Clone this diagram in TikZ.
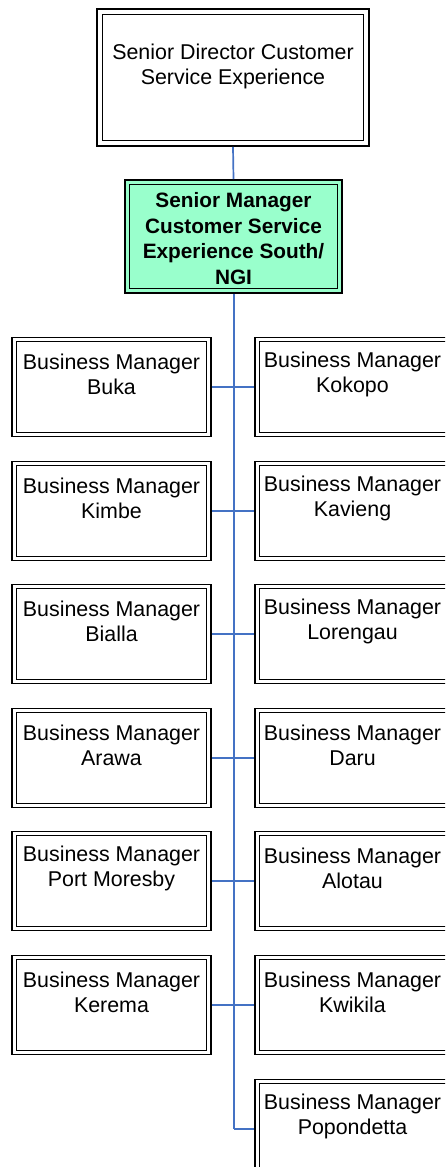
\documentclass[tikz,border=0pt]{standalone}
\usepackage{fontspec}
\setmainfont{Liberation Sans}
\definecolor{linkblue}{RGB}{68,114,196}
\definecolor{mint}{RGB}{153,255,204}
\begin{document}
\begin{tikzpicture}[x=1pt,y=-1pt,
  box/.style={draw, line width=1.7pt, minimum width=199pt, minimum height=99pt, inner sep=0pt},
  txt/.style={font=\fontsize{21.4}{25}\selectfont, align=center, inner sep=0pt},
  boldtxt/.style={font=\fontsize{20.8}{25.5}\selectfont\bfseries, align=center, inner sep=0pt},
  link/.style={draw=linkblue, line width=1.7pt},
  spine/.style={draw=linkblue, line width=2pt},
  inner/.style={draw, line width=0.9pt}]
\useasboundingbox (0,0) rectangle (445,1167);
\clip (0,0) rectangle (445,1167);

\node[box, minimum width=272pt, minimum height=137pt,
  label={[txt,yshift=11pt]center:Senior Director Customer\\Service Experience}] (dir) at (233,77.5) {};
\node[box, fill=mint, minimum width=217pt, minimum height=113pt,
  label={[boldtxt,yshift=-2pt]center:Senior Manager\\Customer Service\\Experience South/\\NGI}] (sm) at (233.5,236.5) {};

\foreach \i/\y/\l/\r in {0/387/Buka/Kokopo, 1/511/Kimbe/Kavieng, 2/634/Bialla/Lorengau, 3/758/Arawa/Daru, 4/881/Port Moresby/Alotau, 5/1005/Kerema/Kwikila}{
  \node[box, label={[txt,yshift=12.5pt]center:Business Manager\\\l}] (L\i) at (111.5,\y) {};
  \node[box, label={[txt,yshift=12.5pt,xshift=-2pt]center:Business Manager\\\r}] (R\i) at (354.5,\y) {};
  \draw[link] (L\i.east) -- (R\i.west);
}
\node[box, label={[txt,yshift=12.5pt,xshift=-2pt]center:Business Manager\\Popondetta}] (R6) at (354.5,1129) {};

\coordinate (end) at (sm.south |- R6.west);
\draw[link] (dir.south) -- (sm.north);
\draw[spine] (sm.south) -- (end);
\draw[link] (end) -- (R6.west);

\draw[inner] ([shift={(6,6)}]dir.north west) rectangle ([shift={(-6,-6)}]dir.south east);
\foreach \n in {sm,L0,L1,L2,L3,L4,L5,R0,R1,R2,R3,R4,R5,R6}{
  \draw[inner] ([shift={(5,5)}]\n.north west) rectangle ([shift={(-5,-5)}]\n.south east);
}
\end{tikzpicture}
\end{document}
